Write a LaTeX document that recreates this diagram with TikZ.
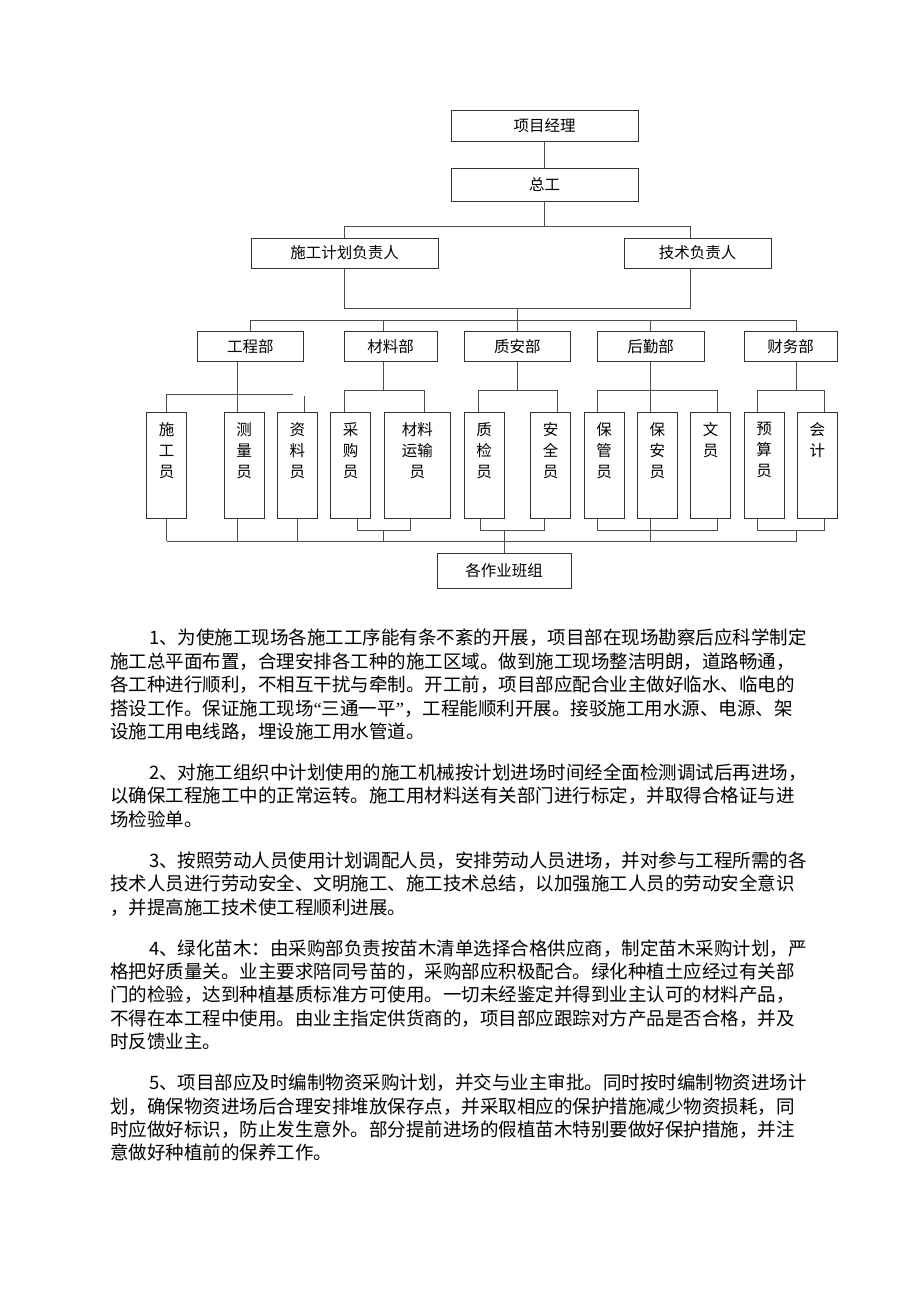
\documentclass[tikz,border=0pt]{standalone}
\usepackage{fontspec}
\newfontfamily\cjk{Noto Sans CJK SC}
\newfontfamily\latinq{Liberation Serif}

\tikzset{
  box/.style={draw=black!80, line width=0.9pt, inner sep=0pt, font=\cjk\fontsize{15.5}{15.5}\selectfont},
  dept/.style={box, minimum height=30pt},
  staff/.style={box, minimum width=40pt, minimum height=105.6pt},
  link/.style={draw=black!70, line width=0.9pt},
  txtline/.style={anchor=base west, inner sep=0pt, font=\cjk\fontsize{18.5}{18.5}\selectfont},
}
% stacked text in the tall boxes
\newcommand{\vtext}[2][36pt]{\parbox[t][86pt][t]{#1}{\centering\fontsize{15.5}{21}\selectfont #2}}

\begin{document}
\begin{tikzpicture}[x=1pt,y=-1pt]
        \fill[white] (0,0) rectangle (920,1302);
        \useasboundingbox (0,0) rectangle (920,1302);

        % === Leitung ===
        \node[box, minimum width=187pt, minimum height=31pt] (pm) at (544.5,125.5) {项目经理};
        \node[box, minimum width=187pt, minimum height=33pt] (zg) at (544.5,184.5) {总工};
        \node[box, minimum width=187pt, minimum height=30pt] (plan) at (344.5,253) {施工计划负责人};
        \node[box, minimum width=147pt, minimum height=30pt] (tech) at (697.5,253) {技术负责人};

        % levels of the bars
        \coordinate (y1) at (0,226.7);
        \coordinate (y2) at (0,308.3);
        \coordinate (bar) at (0,320);
        \coordinate (ya) at (0,390);
        \coordinate (yb) at (0,530);
        \coordinate (yc) at (0,541);

        \draw[link] (pm) -- (zg);
        \draw[link] (zg.south) -- (zg.south |- y1);
        \draw[link] (plan.north) -- (plan.north |- y1) -| ([xshift=-6.8pt]tech.north);
        \draw[link] (plan.south) -- (plan.south |- y2) -| ([xshift=-6.8pt]tech.south);

        % === Abteilungen ===
        \node[dept, minimum width=106pt] (gcb) at (250.3,346.7) {工程部};
        \node[dept, minimum width=93.3pt] (clb) at (390.7,346.7) {材料部};
        \node[dept, minimum width=106.7pt] (zab) at (517.3,346.7) {质安部};
        \node[dept, minimum width=106.7pt] (hqb) at (650.7,346.7) {后勤部};
        \node[dept, minimum width=93.3pt] (cwb) at (790.7,346.7) {财务部};

        % === Personal ===
        \node[staff] (sgy) at (166.7,465.5) {\vtext{施\\工\\员}};
        \node[staff] (cly) at (244,465.5) {\vtext{测\\量\\员}};
        \node[staff] (zly) at (297.3,465.5) {\vtext{资\\料\\员}};
        \node[staff] (cgy) at (350.7,465.5) {\vtext{采\\购\\员}};
        \node[staff, minimum width=66.7pt] (ysy) at (417.3,465.5) {\vtext[60pt]{材料\\运输\\员}};
        \node[staff] (zjy) at (484,465.5) {\vtext{质\\检\\员}};
        \node[staff] (aqy) at (550.7,465.5) {\vtext{安\\全\\员}};
        \node[staff] (bgy) at (604,465.5) {\vtext{保\\管\\员}};
        \node[staff] (bay) at (657.3,465.5) {\vtext{保\\安\\员}};
        \node[staff] (wy) at (710.7,465.5) {\vtext{文\\员}};
        \node[staff] (ysu) at (764,465.5) {\vtext{预\\算\\员}};
        \node[staff] (kj) at (817.3,465.5) {\vtext{会\\计}};

        \node[box, minimum width=134pt, minimum height=35pt] (team) at (504,570.5) {各作业班组};

        % top bar to the departments
        \draw[link] (517.3,308.3) coordinate (mid) -- (mid |- bar);
        \draw[link] (gcb.north |- bar) -- (kj.north west |- bar);
        \draw[link] (gcb.north) -- (gcb.north |- bar);
        \draw[link] (ysy.north west |- clb.north) -- (ysy.north west |- bar);
        \draw[link] (zab.north) -- (zab.north |- bar);
        \draw[link] (hqb.north) -- (hqb.north |- bar);
        \draw[link] (kj.north west |- cwb.north) -- (kj.north west |- bar);

        % 工程部
        \draw[link] ([xshift=-6.7pt]cly.north |- gcb.south) -- ([xshift=-6.7pt]cly.north);
        \draw[link] (sgy.north) -- ++(0,-17.7) -- ++(126,0);
        \draw[link] ([xshift=6.7pt]zly.north) -- ++(0,-16.7);
        \draw[link] (sgy.south) -- (sgy.south |- yc);
        \draw[link] ([xshift=-6.7pt]cly.south) -- ([xshift=-6.7pt]cly.south |- yc);
        \draw[link] (zly.south) -- (zly.south |- yc);

        % 材料部
        \draw[link] (ysy.north west |- clb.south) -- (ysy.north west |- ya);
        \draw[link] ([xshift=-6.7pt]cgy.north) -- ([xshift=-6.7pt]cgy.north |- ya) -| ([xshift=6.7pt]ysy.north);
        \draw[link] ([xshift=6.7pt]cgy.south) -- ([xshift=6.7pt]cgy.south |- yb) -| ([xshift=-6.7pt]ysy.south);
        \draw[link] (ysy.south west |- yb) -- (ysy.south west |- yc);

        % 质安部
        \draw[link] (zab.south) -- (zab.south |- ya);
        \draw[link] ([xshift=-6pt]zjy.north) -- ([xshift=-6pt]zjy.north |- ya) -| ([xshift=6.7pt]aqy.north);
        \draw[link] ([xshift=-4pt]zjy.south) -- ([xshift=-4pt]zjy.south |- yb) -| ([xshift=-6.7pt]aqy.south);
        \draw[link] (team.north |- yb) -- (team.north);

        % 后勤部
        \draw[link] ([xshift=-6.6pt]bay.north |- hqb.south) -- ([xshift=-6.6pt]bay.north);
        \draw[link] ([xshift=-6.7pt]bgy.north) -- ([xshift=-6.7pt]bgy.north |- ya) -| ([xshift=6.6pt]wy.north);
        \draw[link] ([xshift=-6.7pt]bgy.south) -- ([xshift=-6.7pt]bgy.south |- yb) -| ([xshift=6.6pt]wy.south);
        \draw[link] ([xshift=-6.6pt]bay.south) -- ([xshift=-6.6pt]bay.south |- yc);

        % 财务部
        \draw[link] (kj.north west |- cwb.south) -- (kj.north west |- ya);
        \draw[link] ([xshift=-6.7pt]ysu.north) -- ([xshift=-6.7pt]ysu.north |- ya) -| ([xshift=6.7pt]kj.north);
        \draw[link] ([xshift=-6.7pt]ysu.south) -- ([xshift=-6.7pt]ysu.south |- yb) -| ([xshift=6.7pt]kj.south);
        \draw[link] (kj.south west |- yb) -- (kj.south west |- yc);

        % bottom bar
        \draw[link] (sgy.south |- yc) -- (kj.south west |- yc);

        % === Text ===
        \node[txtline] (p1a) at (149,644.8) {1、为使施工现场各施工工序能有条不紊的开展，项目部在现场勘察后应科学制定};
        \node[txtline] (p1b) at (110,668.2) {施工总平面布置，合理安排各工种的施工区域。做到施工现场整洁明朗，道路畅通，};
        \node[txtline] (p1c) at (110,691.6) {各工种进行顺利，不相互干扰与牵制。开工前，项目部应配合业主做好临水、临电的};
        \node[txtline] (p1d) at (110,715) {搭设工作。保证施工现场{\latinq “}三通一平{\latinq ”}，工程能顺利开展。接驳施工用水源、电源、架};
        \node[txtline] (p1e) at (110,738.4) {设施工用电线路，埋设施工用水管道。};

        \node[txtline] (p2a) at (149,779.4) {2、对施工组织中计划使用的施工机械按计划进场时间经全面检测调试后再进场，};
        \node[txtline] (p2b) at (110,802.8) {以确保工程施工中的正常运转。施工用材料送有关部门进行标定，并取得合格证与进};
        \node[txtline] (p2c) at (110,826.2) {场检验单。};

        \node[txtline] (p3a) at (149,867.2) {3、按照劳动人员使用计划调配人员，安排劳动人员进场，并对参与工程所需的各};
        \node[txtline] (p3b) at (110,890.6) {技术人员进行劳动安全、文明施工、施工技术总结，以加强施工人员的劳动安全意识};
        \node[txtline] (p3c) at (110,914) {，并提高施工技术使工程顺利进展。};

        \node[txtline] (p4a) at (149,955) {4、绿化苗木：由采购部负责按苗木清单选择合格供应商，制定苗木采购计划，严};
        \node[txtline] (p4b) at (110,978.4) {格把好质量关。业主要求陪同号苗的，采购部应积极配合。绿化种植土应经过有关部};
        \node[txtline] (p4c) at (110,1001.8) {门的检验，达到种植基质标准方可使用。一切未经鉴定并得到业主认可的材料产品，};
        \node[txtline] (p4d) at (110,1025.2) {不得在本工程中使用。由业主指定供货商的，项目部应跟踪对方产品是否合格，并及};
        \node[txtline] (p4e) at (110,1048.6) {时反馈业主。};

        \node[txtline] (p5a) at (149,1089.6) {5、项目部应及时编制物资采购计划，并交与业主审批。同时按时编制物资进场计};
        \node[txtline] (p5b) at (110,1113) {划，确保物资进场后合理安排堆放保存点，并采取相应的保护措施减少物资损耗，同};
        \node[txtline] (p5c) at (110,1136.4) {时应做好标识，防止发生意外。部分提前进场的假植苗木特别要做好保护措施，并注};
        \node[txtline] (p5d) at (110,1159.8) {意做好种植前的保养工作。};
\end{tikzpicture}
\end{document}
